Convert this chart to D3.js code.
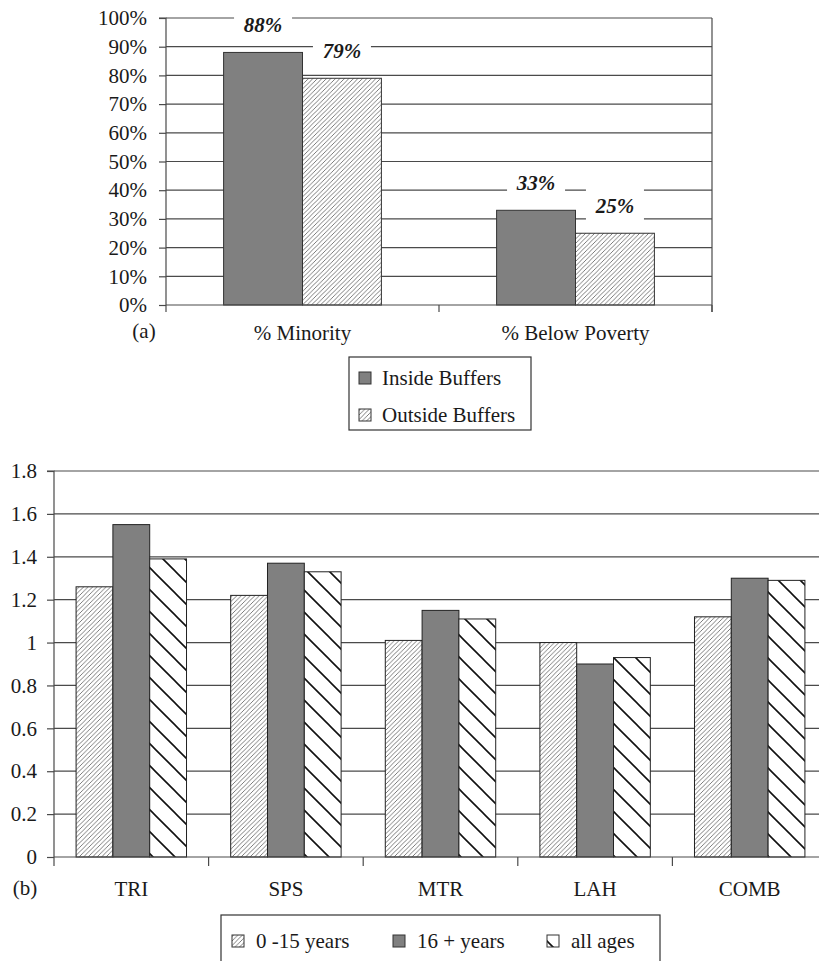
<!DOCTYPE html>
<html>
<head>
<meta charset="utf-8">
<script src="https://cdn.jsdelivr.net/npm/d3@7/dist/d3.min.js"></script>
<style>
  html, body { margin: 0; padding: 0; background: #fff; }
  svg { display: block; }
  text { font-family: "Liberation Serif", "Tinos", "Times New Roman", serif; fill: #1a1a1a; }
</style>
</head>
<body>
<svg id="chart" width="819" height="961"></svg>
<script>
// ---- Panel (a): share of population inside / outside the buffers ----
const catsA = ["% Minority", "% Below Poverty"];
const seriesA = ["Inside Buffers", "Outside Buffers"];
const insideA = [88, 33];
const outsideA = [79, 25];
const ticksA = [0, 10, 20, 30, 40, 50, 60, 70, 80, 90, 100];

// ---- Panel (b): ratios by source and age group ----
const catsB = ["TRI", "SPS", "MTR", "LAH", "COMB"];
const seriesB = ["0 -15 years", "16 + years", "all ages"];
const young = [1.26, 1.22, 1.01, 1.00, 1.12];
const adult = [1.55, 1.37, 1.15, 0.90, 1.30];
const allAges = [1.39, 1.33, 1.11, 0.93, 1.29];
const ticksB = [0, 0.2, 0.4, 0.6, 0.8, 1, 1.2, 1.4, 1.6, 1.8];

const svg = d3.select("#chart");
const FS = 21;
const SERIF = "Liberation Serif, Tinos, Times New Roman, serif";
const gridColor = "#4a4a4a";

// Fill patterns
const defs = svg.append("defs");
const fine = defs.append("pattern").attr("id", "fineHatch")
  .attr("patternUnits", "userSpaceOnUse").attr("width", 4.5).attr("height", 4.5);
fine.append("rect").attr("width", 4.5).attr("height", 4.5).attr("fill", "#fff");
fine.append("path").attr("d", "M-1,1 L1,-1 M0,4.5 L4.5,0 M3.5,5.5 L5.5,3.5")
  .attr("stroke", "#6e6e6e").attr("stroke-width", 0.9);

const wide = defs.append("pattern").attr("id", "wideHatch")
  .attr("patternUnits", "userSpaceOnUse").attr("width", 22).attr("height", 22);
wide.append("rect").attr("width", 22).attr("height", 22).attr("fill", "#fff");
wide.append("path").attr("d", "M0,0 L22,22 M-6,16 L6,28 M16,-6 L28,6")
  .attr("stroke", "#111").attr("stroke-width", 1.6);

const DARK = "#808080";

// ================= Panel (a) =================
const A = { left: 166, right: 712, top: 18, bottom: 305 };
const xA = d3.scaleBand().domain(catsA).range([A.left, A.right]).paddingInner(0).paddingOuter(0);
const subA = d3.scaleBand().domain(seriesA).range([0, xA.bandwidth()]).paddingInner(0).paddingOuter(0.73);
const yA = d3.scaleLinear().domain([0, 100]).range([A.bottom, A.top]);

const gA = svg.append("g");
// gridlines
gA.append("g").selectAll("line").data(ticksA.filter(t => t > 0)).join("line")
  .attr("x1", A.left).attr("x2", A.right)
  .attr("y1", d => yA(d)).attr("y2", d => yA(d))
  .attr("stroke", gridColor).attr("stroke-width", 1.2);
// right border
gA.append("line").attr("x1", A.right).attr("x2", A.right)
  .attr("y1", A.top).attr("y2", A.bottom + 7).attr("stroke", gridColor).attr("stroke-width", 1.2);

// bars
const rowsA = catsA.map((c, i) => [
  { cat: c, s: seriesA[0], v: insideA[i] },
  { cat: c, s: seriesA[1], v: outsideA[i] }
]).flat();
gA.append("g").selectAll("rect").data(rowsA).join("rect")
  .attr("x", d => xA(d.cat) + subA(d.s))
  .attr("width", subA.bandwidth())
  .attr("y", d => yA(d.v))
  .attr("height", d => yA(0) - yA(d.v))
  .attr("fill", d => d.s === seriesA[0] ? DARK : "url(#fineHatch)")
  .attr("stroke", "#333").attr("stroke-width", 1);

// y axis
const axA = d3.axisLeft(yA).tickValues(ticksA).tickFormat(d => d + "%").tickSize(7).tickPadding(12);
gA.append("g").attr("transform", `translate(${A.left},0)`).call(axA)
  .call(g => g.select(".domain").attr("stroke", gridColor).attr("stroke-width", 1.2).attr("d", `M-7,${A.top}H0V${A.bottom}`))
  .call(g => g.selectAll(".tick line").attr("stroke", gridColor).attr("stroke-width", 1.2))
  .call(g => g.selectAll(".tick text").attr("font-size", FS)
    .attr("font-family", SERIF).attr("fill", "#1a1a1a"));

// x axis
const axAx = d3.axisBottom(xA).tickSize(0).tickPadding(20);
gA.append("g").attr("transform", `translate(0,${A.bottom})`).call(axAx)
  .call(g => g.select(".domain").attr("stroke", gridColor).attr("stroke-width", 1.2).attr("d", `M${A.left},0H${A.right}`))
  .call(g => g.selectAll(".tick text").attr("font-size", FS)
    .attr("font-family", SERIF).attr("fill", "#1a1a1a"));
// category boundary ticks
gA.append("g").selectAll("line").data(catsA.concat(["end"])).join("line")
  .attr("x1", (d, i) => i < catsA.length ? xA(d) : A.right)
  .attr("x2", (d, i) => i < catsA.length ? xA(d) : A.right)
  .attr("y1", A.bottom).attr("y2", A.bottom + 7)
  .attr("stroke", gridColor).attr("stroke-width", 1.2);
gA.append("text").attr("x", 144).attr("y", A.bottom + 33).attr("text-anchor", "middle")
  .attr("font-size", FS).text("(a)");

// value labels with white backing
const labA = gA.append("g").selectAll("g").data(rowsA).join("g")
  .attr("transform", d => `translate(${xA(d.cat) + subA(d.s) + subA.bandwidth() / 2},${yA(d.v) - 28})`);
labA.append("rect").attr("x", -29).attr("y", -17).attr("width", 58).attr("height", 34).attr("fill", "#fff");
labA.append("text").attr("text-anchor", "middle").attr("dy", "0.35em")
  .attr("font-size", FS).attr("font-weight", "bold").attr("font-style", "italic")
  .text(d => d.v + "%");

// legend (a)
const legA = svg.append("g").attr("transform", "translate(349,357)");
legA.append("rect").attr("width", 182).attr("height", 73).attr("fill", "#fff")
  .attr("stroke", "#333").attr("stroke-width", 1.2);
seriesA.forEach((s, i) => {
  const row = legA.append("g").attr("transform", `translate(10,${21 + i * 37})`);
  row.append("rect").attr("x", 0).attr("y", -6).attr("width", 12).attr("height", 12)
    .attr("fill", i === 0 ? DARK : "url(#fineHatch)").attr("stroke", "#333").attr("stroke-width", 1);
  row.append("text").attr("x", 23).attr("dy", "0.35em").attr("font-size", FS).text(s);
});

// ================= Panel (b) =================
const B = { left: 54, right: 827, top: 471, bottom: 857 };
const xB = d3.scaleBand().domain(catsB).range([B.left, B.right]).paddingInner(0).paddingOuter(0);
const subB = d3.scaleBand().domain(seriesB).range([0, xB.bandwidth()]).paddingInner(0).paddingOuter(0.6);
const yB = d3.scaleLinear().domain([0, 1.8]).range([B.bottom, B.top]);

const gB = svg.append("g");
gB.append("g").selectAll("line").data(ticksB.filter(t => t > 0)).join("line")
  .attr("x1", B.left).attr("x2", B.right)
  .attr("y1", d => yB(d)).attr("y2", d => yB(d))
  .attr("stroke", gridColor).attr("stroke-width", 1.2);

const valsB = [young, adult, allAges];
const fillsB = ["url(#fineHatch)", DARK, "url(#wideHatch)"];
const rowsB = catsB.map((c, i) => seriesB.map((s, j) => ({ cat: c, s, j, v: valsB[j][i] }))).flat();
gB.append("g").selectAll("rect").data(rowsB).join("rect")
  .attr("x", d => xB(d.cat) + subB(d.s))
  .attr("width", subB.bandwidth())
  .attr("y", d => yB(d.v))
  .attr("height", d => yB(0) - yB(d.v))
  .attr("fill", d => fillsB[d.j])
  .attr("stroke", "#222").attr("stroke-width", 1);

const fmtB = d => (d === 0 || d === 1) ? String(d) : d3.format(".1f")(d);
const axB = d3.axisLeft(yB).tickValues(ticksB).tickFormat(fmtB).tickSize(7).tickPadding(10);
gB.append("g").attr("transform", `translate(${B.left},0)`).call(axB)
  .call(g => g.select(".domain").attr("stroke", gridColor).attr("stroke-width", 1.2).attr("d", `M-7,${B.top}H0V${B.bottom}`))
  .call(g => g.selectAll(".tick line").attr("stroke", gridColor).attr("stroke-width", 1.2))
  .call(g => g.selectAll(".tick text").attr("font-size", FS)
    .attr("font-family", SERIF).attr("fill", "#1a1a1a"));

const axBx = d3.axisBottom(xB).tickSize(0).tickPadding(24);
gB.append("g").attr("transform", `translate(0,${B.bottom})`).call(axBx)
  .call(g => g.select(".domain").attr("stroke", gridColor).attr("stroke-width", 1.2).attr("d", `M${B.left},0H${B.right}`))
  .call(g => g.selectAll(".tick text").attr("font-size", FS)
    .attr("font-family", SERIF).attr("fill", "#1a1a1a"));
gB.append("g").selectAll("line").data(catsB).join("line")
  .attr("x1", d => xB(d)).attr("x2", d => xB(d))
  .attr("y1", B.bottom).attr("y2", B.bottom + 9)
  .attr("stroke", gridColor).attr("stroke-width", 1.2);
gB.append("text").attr("x", 25).attr("y", B.bottom + 38).attr("text-anchor", "middle")
  .attr("font-size", FS).text("(b)");

// legend (b)
const legB = svg.append("g").attr("transform", "translate(221,915)");
legB.append("rect").attr("width", 439).attr("height", 70).attr("fill", "#fff")
  .attr("stroke", "#333").attr("stroke-width", 1.2);
const legBx = [11, 172, 326];
seriesB.forEach((s, j) => {
  const row = legB.append("g").attr("transform", `translate(${legBx[j]},26)`);
  row.append("rect").attr("x", 0).attr("y", -6).attr("width", 12).attr("height", 12)
    .attr("fill", fillsB[j]).attr("stroke", "#333").attr("stroke-width", 1);
  row.append("text").attr("x", 24).attr("dy", "0.35em").attr("font-size", FS).text(s);
});
</script>
</body>
</html>
